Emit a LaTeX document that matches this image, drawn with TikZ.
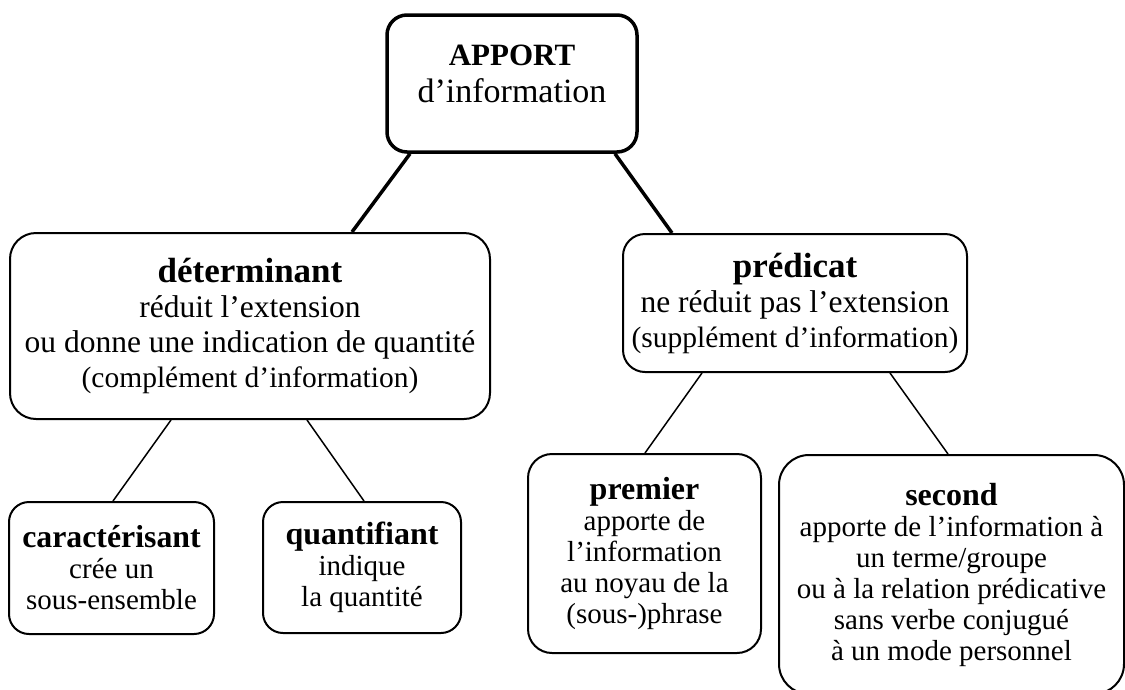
\documentclass[tikz,border=0pt]{standalone}
\usepackage{fontspec}
\setmainfont{Liberation Serif}
\begin{document}
\begin{tikzpicture}[x=1pt,y=-1pt,
  box/.style={draw, rectangle, rounded corners=22pt, line width=2pt, align=center, inner sep=0pt},
  bigtext/.style={font=\fontsize{31.5}{35}\selectfont},
  smalltext/.style={font=\fontsize{29}{31}\selectfont},
  thickline/.style={line width=3.5pt},
  thinline/.style={line width=1.5pt}]
\useasboundingbox (0,0) rectangle (1125,689);
\clip (0,0) rectangle (1125,689);
% top box
\node[box, line width=3.5pt, rounded corners=20pt, minimum width=250pt, minimum height=137pt] (apport) at (512,83.5) {};
\node[align=center, font=\fontsize{34}{37}\selectfont] (apporttxt) at (512,74) {{\bfseries\fontsize{31}{37}\selectfont APPORT}\\d’information};
% second level
\node[box, bigtext, rounded corners=26pt, minimum width=480pt, minimum height=186pt] (det) at (250,326)
  {{\bfseries\fontsize{35}{35}\selectfont déterminant}\\réduit l’extension\\ou donne une indication de quantité\\{\fontsize{29.5}{35}\selectfont (complément d’information)}};
\node[box, bigtext, rounded corners=22pt, minimum width=344pt, minimum height=138pt] (pred) at (795,303)
  {{\bfseries\fontsize{35}{33}\selectfont prédicat}\\ne réduit pas l’extension\\{\fontsize{29.5}{35}\selectfont (supplément d’information)}};
% third level
\node[box, smalltext, rounded corners=20pt, minimum width=205pt, minimum height=132pt] (car) at (111.5,568)
  {{\bfseries\fontsize{31.8}{31}\selectfont caractérisant}\\crée un\\sous-ensemble};
\node[box, smalltext, rounded corners=20pt, minimum width=198pt, minimum height=131pt] (quant) at (362,567.5)
  {{\bfseries\fontsize{32}{31}\selectfont quantifiant}\\indique\\la quantité};
\node[box, smalltext, rounded corners=24pt, minimum width=233pt, minimum height=199pt] (prem) at (644.5,553.5)
  {{\bfseries\fontsize{32}{31}\selectfont premier}\\apporte de\\l’information\\au noyau de la\\(sous-)phrase};
\node[box, smalltext, rounded corners=30pt, minimum width=345pt, minimum height=239pt] (second) at (951.5,574.5)
  {{\bfseries\fontsize{32}{31}\selectfont second}\\apporte de l’information à\\un terme/groupe\\ou à la relation prédicative\\sans verbe conjugué\\à un mode personnel};
% connectors
\draw[thickline] ([xshift=-102pt]apport.south) -- ([xshift=102pt]det.north);
\draw[thickline] ([xshift=103pt]apport.south) -- ([xshift=-123pt]pred.north);
\draw[thinline] ([xshift=-79pt]det.south) -- ([xshift=1.5pt]car.north);
\draw[thinline] ([xshift=57pt]det.south) -- ([xshift=2pt]quant.north);
\draw[thinline] ([xshift=-93pt]pred.south) -- ([xshift=0.5pt]prem.north);
\draw[thinline] ([xshift=95pt]pred.south) -- ([xshift=-3.5pt]second.north);
\end{tikzpicture}
\end{document}
